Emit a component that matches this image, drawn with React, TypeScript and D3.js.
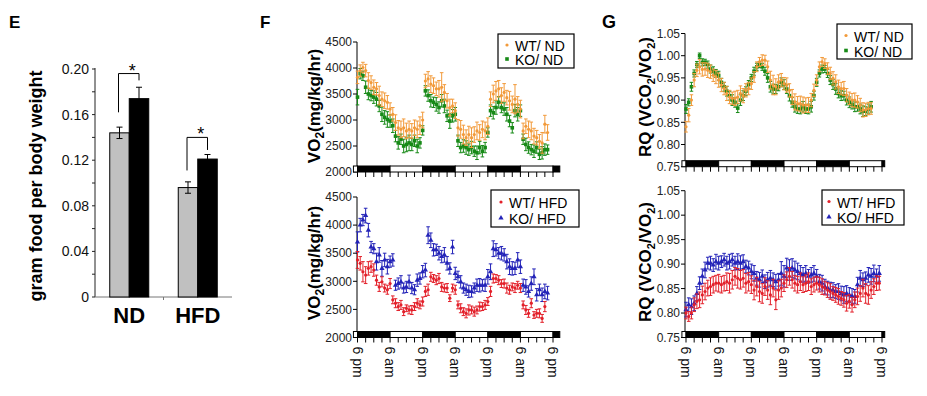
import React from 'react';
import * as d3 from 'd3';

const FONT = "'Liberation Sans', Arial, Helvetica, sans-serif";

// ---------- Panel E data ----------
const DIETS = ['ND', 'HFD'];
const GENOTYPES = ['WT', 'KO'];
const FOOD_WT = [0.144, 0.096];
const FOOD_KO = [0.174, 0.121];
const FOOD_WT_ERR = [0.005, 0.005];
const FOOD_KO_ERR = [0.010, 0.004];
const FOOD_TICKS = [0, 0.04, 0.08, 0.12, 0.16, 0.2];
const FOOD_TICK_LABELS = ['0', '0.04', '0.08', '0.12', '0.16', '0.20'];
const FOOD_MINOR = [0.02, 0.06, 0.1, 0.14, 0.18];
const SIG_TOP = [0.196, 0.14];
const SIG_LEFT_END = [0.162, 0.111];
const SIG_RIGHT_END = [0.19, 0.129];

// ---------- Time axis ----------
const HOUR_LABEL_POS = [0, 12, 24, 36, 48, 60, 72];
const HOUR_LABELS = ['6 pm', '6 am', '6 pm', '6 am', '6 pm', '6 am', '6 pm'];
const PHASE_START = [-1.5, 0, 12, 24, 36, 48, 60, 72];
const PHASE_DARK = [false, true, false, true, false, true, false, true];

// ---------- VO2 data (hourly, from 6 pm) ----------
const VO2_TICKS = [2000, 2500, 3000, 3500, 4000, 4500];

const WT_ND_VO2 = [
  3820, 3950, 4010, 3950, 3760, 3720, 3630, 3600, 3470, 3400, 3370, 3340,
  3210, 3110, 2950, 2850, 2820, 2850, 2790, 2820, 2790, 2850, 2820, 2890,
  3000, 3750, 3790, 3690, 3660, 3600, 3600, 3630, 3530, 3370, 3240, 3270,
  3180, 2850, 2820, 2720, 2660, 2720, 2660, 2720, 2790, 2760, 2820, 2790,
  2880, 3400, 3500, 3560, 3600, 3470, 3530, 3430, 3370, 3300, 3400, 3300,
  3210, 2790, 2880, 2820, 2790, 2690, 2660, 2590, 2560, 2920, 2760,
];
const WT_ND_VO2_ERR = [
  120, 110, 100, 120, 150, 130, 140, 120, 180, 140, 150, 130,
  120, 130, 150, 140, 160, 170, 150, 160, 140, 150, 160, 170,
  150, 130, 140, 160, 150, 130, 160, 280, 150, 140, 160, 130,
  150, 160, 170, 180, 150, 160, 190, 150, 170, 150, 160, 170,
  160, 140, 170, 180, 160, 150, 170, 140, 180, 160, 280, 150,
  170, 150, 140, 160, 170, 150, 140, 130, 200, 170, 150,
];
const KO_ND_VO2 = [
  3440, 3890, 3850, 3630, 3500, 3470, 3440, 3400, 3270, 3110, 3050, 3010,
  2980, 2890, 2690, 2560, 2630, 2500, 2530, 2560, 2530, 2600, 2500, 2560,
  2800, 3560, 3470, 3370, 3340, 3300, 3240, 3370, 3270, 3080, 2980, 3080,
  3110, 2600, 2470, 2500, 2470, 2430, 2470, 2400, 2370, 2470, 2400, 2470,
  2760, 3180, 3140, 3240, 3340, 3240, 3210, 3110, 2980, 2850, 3180, 3110,
  3180, 2630, 2530, 2470, 2430, 2400, 2470, 2340, 2370, 2430, 2430,
];
const KO_ND_VO2_ERR = [
  150, 100, 90, 120, 110, 100, 120, 130, 110, 140, 130, 150,
  120, 130, 110, 120, 100, 130, 140, 150, 120, 110, 130, 100,
  90, 100, 110, 120, 100, 130, 110, 120, 130, 110, 140, 120,
  130, 110, 100, 120, 130, 110, 120, 100, 130, 120, 110, 100,
  90, 110, 120, 130, 110, 100, 120, 130, 110, 100, 120, 130,
  110, 100, 120, 110, 100, 120, 110, 100, 120, 110, 90,
];
const WT_HFD_VO2 = [
  3380, 3320, 3170, 3110, 3230, 3260, 3200, 3020, 2900, 2990, 2880, 2850,
  2960, 2670, 2610, 2550, 2580, 2460, 2520, 2490, 2490, 2550, 2610, 2580,
  2640, 2820, 2850, 3080, 3050, 3020, 3050, 2900, 2880, 2880, 2700, 2880,
  2850, 2580, 2520, 2460, 2430, 2490, 2490, 2460, 2490, 2550, 2550, 2580,
  2640, 2820, 3050, 3050, 3020, 2960, 2960, 2880, 2850, 2900, 2880, 2930,
  2880, 2580, 2490, 2430, 2610, 2400, 2430, 2430, 2340, 2550,
];
const WT_HFD_VO2_ERR = [
  150, 120, 180, 150, 120, 100, 110, 90, 80, 90, 70, 80,
  90, 70, 80, 70, 80, 70, 60, 70, 80, 70, 80, 70,
  80, 90, 100, 80, 70, 80, 90, 80, 70, 80, 60, 70,
  80, 70, 80, 70, 80, 90, 70, 80, 70, 80, 70, 80,
  70, 90, 80, 70, 80, 70, 80, 90, 80, 70, 80, 70,
  80, 70, 80, 70, 80, 60, 70, 80, 70, 90,
];
const KO_HFD_VO2 = [
  3700, 4000, 4090, 4170, 3910, 3610, 3580, 3350, 3470, 3230, 3380, 3260,
  3350, 3380, 2930, 2960, 2990, 2880, 2900, 2990, 2880, 2850, 3020, 3050,
  3170, 3200, 3820, 3730, 3560, 3560, 3500, 3440, 3470, 3320, 3230, 3610,
  3140, 3080, 2990, 2880, 2850, 2820, 2820, 2880, 2930, 2930, 2930, 2930,
  3080, 3170, 3580, 3560, 3500, 3500, 3470, 3350, 3260, 3230, 3230, 3380,
  3260, 2930, 2900, 2820, 2960, 3080, 2760, 2850, 2760, 2820, 2790,
];
const KO_HFD_VO2_ERR = [
  180, 120, 100, 130, 120, 100, 90, 150, 130, 140, 120, 130,
  100, 110, 90, 100, 110, 90, 100, 120, 100, 90, 110, 100,
  110, 120, 150, 130, 110, 100, 120, 110, 130, 120, 100, 120,
  110, 100, 110, 90, 100, 110, 100, 90, 110, 120, 100, 110,
  130, 140, 140, 110, 100, 120, 110, 130, 140, 120, 110, 130,
  120, 110, 130, 100, 120, 140, 110, 100, 120, 130, 120,
];

// ---------- RQ data ----------
const RQ_TICKS = [0.75, 0.8, 0.85, 0.9, 0.95, 1.0, 1.05];
const RQ_TICK_LABELS = ['0.75', '0.80', '0.85', '0.90', '0.95', '1.00', '1.05'];

const WT_ND_RQ = [
  0.840, 0.866, 0.900, 0.945, 0.967, 0.975, 0.969, 0.970, 0.967, 0.964, 0.956, 0.952,
  0.945, 0.934, 0.926, 0.915, 0.907, 0.904, 0.904, 0.907, 0.915, 0.910, 0.922, 0.926,
  0.937, 0.952, 0.975, 0.986, 0.990, 0.990, 0.975, 0.945, 0.934, 0.930, 0.941, 0.945,
  0.937, 0.934, 0.922, 0.907, 0.896, 0.892, 0.892, 0.889, 0.889, 0.889, 0.900, 0.922,
  0.945, 0.975, 0.986, 0.982, 0.971, 0.960, 0.949, 0.941, 0.930, 0.926, 0.926, 0.911,
  0.904, 0.900, 0.900, 0.896, 0.889, 0.878, 0.878, 0.881, 0.881,
];
const WT_ND_RQ_ERR = [
  0.012, 0.015, 0.012, 0.015, 0.014, 0.016, 0.015, 0.014, 0.016, 0.015, 0.014, 0.015,
  0.016, 0.015, 0.014, 0.016, 0.015, 0.014, 0.016, 0.015, 0.017, 0.016, 0.015, 0.014,
  0.013, 0.012, 0.011, 0.010, 0.012, 0.011, 0.013, 0.020, 0.022, 0.018, 0.016, 0.015,
  0.014, 0.016, 0.015, 0.017, 0.018, 0.016, 0.017, 0.018, 0.016, 0.017, 0.015, 0.014,
  0.012, 0.011, 0.010, 0.011, 0.013, 0.014, 0.015, 0.016, 0.015, 0.014, 0.016, 0.015,
  0.014, 0.015, 0.016, 0.014, 0.015, 0.016, 0.015, 0.014, 0.013,
];
const KO_ND_RQ = [
  0.880, 0.895, 0.930, 0.960, 0.980, 1.000, 0.985, 0.985, 0.980, 0.970, 0.965, 0.960,
  0.955, 0.940, 0.930, 0.920, 0.910, 0.900, 0.895, 0.882, 0.900, 0.910, 0.920, 0.935,
  0.950, 0.965, 0.975, 0.980, 0.975, 0.965, 0.950, 0.930, 0.925, 0.925, 0.930, 0.940,
  0.935, 0.925, 0.910, 0.895, 0.885, 0.880, 0.880, 0.885, 0.880, 0.880, 0.885, 0.910,
  0.940, 0.960, 0.970, 0.970, 0.960, 0.945, 0.935, 0.925, 0.915, 0.910, 0.910, 0.900,
  0.895, 0.890, 0.885, 0.885, 0.880, 0.875, 0.875, 0.880, 0.885,
];
const KO_ND_RQ_ERR = [
  0.010, 0.008, 0.010, 0.008, 0.007, 0.006, 0.008, 0.007, 0.008, 0.009, 0.010, 0.009,
  0.010, 0.009, 0.010, 0.011, 0.010, 0.012, 0.011, 0.010, 0.012, 0.011, 0.010, 0.009,
  0.008, 0.009, 0.008, 0.007, 0.008, 0.009, 0.010, 0.012, 0.011, 0.010, 0.009, 0.010,
  0.011, 0.010, 0.012, 0.011, 0.012, 0.010, 0.011, 0.012, 0.010, 0.011, 0.012, 0.010,
  0.009, 0.008, 0.009, 0.008, 0.009, 0.010, 0.011, 0.012, 0.010, 0.011, 0.010, 0.011,
  0.012, 0.010, 0.011, 0.010, 0.011, 0.012, 0.010, 0.011, 0.012,
];
const WT_HFD_RQ = [
  0.800, 0.793, 0.800, 0.817, 0.824, 0.827, 0.837, 0.844, 0.851, 0.854, 0.858, 0.861,
  0.861, 0.858, 0.861, 0.864, 0.861, 0.868, 0.875, 0.871, 0.868, 0.871, 0.861, 0.864,
  0.858, 0.847, 0.854, 0.844, 0.840, 0.854, 0.847, 0.837, 0.851, 0.827, 0.847, 0.851,
  0.861, 0.868, 0.875, 0.868, 0.861, 0.858, 0.864, 0.858, 0.861, 0.864, 0.854, 0.858,
  0.861, 0.858, 0.854, 0.851, 0.847, 0.844, 0.840, 0.837, 0.834, 0.830, 0.827, 0.820,
  0.824, 0.817, 0.827, 0.834, 0.840, 0.851, 0.840, 0.837, 0.847, 0.854, 0.861, 0.861,
];
const WT_HFD_RQ_ERR = [
  0.012, 0.010, 0.012, 0.014, 0.015, 0.016, 0.018, 0.017, 0.016, 0.018, 0.017, 0.016,
  0.018, 0.017, 0.016, 0.018, 0.020, 0.019, 0.018, 0.020, 0.019, 0.018, 0.020, 0.019,
  0.018, 0.020, 0.019, 0.021, 0.020, 0.018, 0.019, 0.020, 0.018, 0.020, 0.019, 0.018,
  0.017, 0.016, 0.018, 0.017, 0.016, 0.017, 0.018, 0.016, 0.017, 0.018, 0.016, 0.015,
  0.014, 0.015, 0.016, 0.014, 0.015, 0.016, 0.014, 0.015, 0.016, 0.014, 0.015, 0.016,
  0.014, 0.015, 0.016, 0.017, 0.016, 0.018, 0.020, 0.019, 0.017, 0.016, 0.015, 0.014,
];
const KO_HFD_RQ = [
  0.807, 0.817, 0.813, 0.820, 0.840, 0.861, 0.875, 0.888, 0.902, 0.902, 0.898, 0.905,
  0.902, 0.905, 0.909, 0.902, 0.905, 0.909, 0.902, 0.905, 0.902, 0.905, 0.895, 0.892,
  0.885, 0.881, 0.871, 0.868, 0.875, 0.864, 0.868, 0.871, 0.868, 0.864, 0.868, 0.881,
  0.875, 0.892, 0.888, 0.892, 0.888, 0.885, 0.881, 0.878, 0.881, 0.875, 0.878, 0.881,
  0.875, 0.864, 0.861, 0.854, 0.851, 0.847, 0.847, 0.844, 0.844, 0.840, 0.837, 0.840,
  0.837, 0.834, 0.834, 0.858, 0.871, 0.868, 0.871, 0.878, 0.875, 0.881, 0.875, 0.881,
];
const KO_HFD_RQ_ERR = [
  0.015, 0.014, 0.016, 0.015, 0.014, 0.013, 0.015, 0.016, 0.012, 0.014, 0.013, 0.015,
  0.014, 0.012, 0.013, 0.014, 0.015, 0.013, 0.014, 0.016, 0.015, 0.014, 0.013, 0.014,
  0.015, 0.016, 0.014, 0.015, 0.013, 0.014, 0.015, 0.016, 0.014, 0.015, 0.013, 0.024,
  0.022, 0.020, 0.021, 0.019, 0.018, 0.017, 0.016, 0.015, 0.016, 0.014, 0.015, 0.016,
  0.014, 0.015, 0.016, 0.015, 0.014, 0.016, 0.015, 0.014, 0.016, 0.015, 0.017, 0.016,
  0.015, 0.016, 0.014, 0.015, 0.016, 0.014, 0.013, 0.015, 0.016, 0.017, 0.015, 0.016,
];

const C_ORANGE = '#f29a3a';
const C_GREEN = '#178a17';
const C_RED = '#e3202a';
const C_BLUE = '#2323b8';

type Marker = 'circle' | 'square' | 'triangle';

function MarkerShape({ x, y, marker, color }: { x: number; y: number; marker: Marker; color: string }) {
  if (marker === 'circle') return <circle cx={x} cy={y} r={1.6} fill={color} />;
  if (marker === 'square') return <rect x={x - 1.8} y={y - 1.8} width={3.6} height={3.6} fill={color} />;
  const p = d3.symbol(d3.symbolTriangle, 12)() as string;
  return <path d={p} transform={`translate(${x},${y})`} fill={color} />;
}

interface SeriesDef { label: string; values: number[]; errors: number[]; color: string; marker: Marker }

interface PanelProps {
  axisX: number; x0: number; x72: number; stripEnd: number;
  yTop: number; yBot: number; domain: [number, number];
  ticks: number[]; tickLabels: string[];
  draw: SeriesDef[]; legendOrder: SeriesDef[];
  legend: { x: number; y: number; w: number; h: number; tx: number; b: number[] };
  hourLabels: boolean;
  yLabel: React.ReactNode; yLabelX: number; yLabelY: number;
}

function TimePanel(p: PanelProps) {
  const xs = d3.scaleLinear().domain([0, 72]).range([p.x0, p.x72]);
  const ys = d3.scaleLinear().domain(p.domain).range([p.yBot, p.yTop]);
  const stripH = 6;
  const minorHours = d3.range(0, 73, 3);
  return (
    <g>
      {/* y axis */}
      <line x1={p.axisX} x2={p.axisX} y1={ys(p.domain[1])} y2={p.yBot} stroke="#000" strokeWidth={1} />
      {p.ticks.map((t, i) => (
        <g key={i}>
          <line x1={p.axisX - 4} x2={p.axisX} y1={ys(t)} y2={ys(t)} stroke="#000" />
          <text x={p.axisX - 5} y={ys(t)} dy="0.35em" textAnchor="end" fontSize={12} fill="#222">{p.tickLabels[i]}</text>
        </g>
      ))}
      {/* light/dark strip */}
      {PHASE_START.map((s, i) => {
        const e = i < PHASE_START.length - 1 ? PHASE_START[i + 1] : p.stripEnd;
        return <rect key={i} x={xs(s)} y={p.yBot - stripH} width={xs(e) - xs(s)} height={stripH}
          fill={PHASE_DARK[i] ? '#000' : '#fff'} stroke="#000" strokeWidth={1} />;
      })}
      {minorHours.map((h) => (
        <line key={h} x1={xs(h)} x2={xs(h)} y1={p.yBot} y2={p.yBot + 5} stroke="#000" />
      ))}
      {p.hourLabels && HOUR_LABEL_POS.map((h, i) => (
        <text key={i} transform={`translate(${xs(h)},${p.yBot + 9}) rotate(90)`} dy="0.35em" fontSize={14} fill="#111">{HOUR_LABELS[i]}</text>
      ))}
      {/* series */}
      {p.draw.map((s, si) => (
        <g key={si}>
          {s.values.map((v, i) => {
            const x = xs(i);
            const yv = ys(v);
            const yh = ys(v + s.errors[i]);
            const yl = ys(v - s.errors[i]);
            return (
              <g key={i}>
                <line x1={x} x2={x} y1={yl} y2={yh} stroke={s.color} strokeWidth={1} />
                <line x1={x - 1.8} x2={x + 1.8} y1={yh} y2={yh} stroke={s.color} strokeWidth={1} />
                <line x1={x - 1.8} x2={x + 1.8} y1={yl} y2={yl} stroke={s.color} strokeWidth={1} />
                <MarkerShape x={x} y={yv} marker={s.marker} color={s.color} />
              </g>
            );
          })}
        </g>
      ))}
      {/* legend */}
      <rect x={p.legend.x} y={p.legend.y} width={p.legend.w} height={p.legend.h} fill="#fff" stroke="#000" strokeWidth={1.2} />
      {p.legendOrder.map((s, i) => (
        <g key={i}>
          <MarkerShape x={p.legend.tx - 8} y={p.legend.b[i] - 6} marker={s.marker} color={s.color} />
          <text x={p.legend.tx} y={p.legend.b[i]} fontSize={14} fill="#000">{s.label}</text>
        </g>
      ))}
      {/* y label */}
      <text transform={`translate(${p.yLabelX},${p.yLabelY}) rotate(-90)`} textAnchor="middle" fontSize={17} fontWeight="bold" fill="#000">{p.yLabel}</text>
    </g>
  );
}

function FoodPanel() {
  const ax = 95, ay0 = 297, ay1 = 69, axEnd = 232;
  const y = d3.scaleLinear().domain([0, 0.2]).range([ay0, ay1]);
  const xg = d3.scaleBand().domain(DIETS).range([ax, axEnd]);
  const barW = 19.5;
  const xb = d3.scaleBand().domain(GENOTYPES).range([0, barW * 2]);
  const groups = DIETS.map((d, i) => ({ d, vals: [FOOD_WT[i], FOOD_KO[i]], errs: [FOOD_WT_ERR[i], FOOD_KO_ERR[i]] }));
  return (
    <g>
      <line x1={ax} x2={ax} y1={ay1 - 1} y2={ay0} stroke="#222" />
      <line x1={ax} x2={axEnd} y1={ay0} y2={ay0} stroke="#777" />
      <line x1={(ax + axEnd) / 2} x2={(ax + axEnd) / 2} y1={ay0} y2={ay0 + 3} stroke="#777" />
      {FOOD_TICKS.map((t, i) => (
        <g key={i}>
          <line x1={ax - 3} x2={ax} y1={y(t)} y2={y(t)} stroke="#222" />
          <text x={89} y={y(t)} dy="0.35em" textAnchor="end" fontSize={14} fill="#111">{FOOD_TICK_LABELS[i]}</text>
        </g>
      ))}
      {FOOD_MINOR.map((t, i) => (
        <line key={i} x1={ax - 3} x2={ax} y1={y(t)} y2={y(t)} stroke="#222" />
      ))}
      {groups.map((g, gi) => {
        const cx = (xg(g.d) as number) + xg.bandwidth() / 2;
        const left = cx - barW;
        return (
          <g key={gi}>
            {g.vals.map((v, k) => {
              const bx = left + (xb(GENOTYPES[k]) as number);
              const mid = bx + barW / 2;
              return (
                <g key={k}>
                  <rect x={bx} y={y(v)} width={barW} height={ay0 - y(v)} fill={k === 0 ? '#c0c0c0' : '#000'} stroke="#000" strokeWidth={1} />
                  <line x1={mid} x2={mid} y1={y(v - g.errs[k])} y2={y(v + g.errs[k])} stroke="#000" />
                  <line x1={mid - 3} x2={mid + 3} y1={y(v + g.errs[k])} y2={y(v + g.errs[k])} stroke="#000" />
                  <line x1={mid - 3} x2={mid + 3} y1={y(v - g.errs[k])} y2={y(v - g.errs[k])} stroke="#000" />
                </g>
              );
            })}
            {/* significance bracket */}
            <path d={`M${left + barW / 2 - 1},${y(SIG_LEFT_END[gi])}V${y(SIG_TOP[gi])}H${left + barW * 1.5}V${y(SIG_RIGHT_END[gi])}`} fill="none" stroke="#000" strokeWidth={1} />
            <text x={cx + 3} y={y(SIG_TOP[gi]) + 3} textAnchor="middle" fontSize={18} fill="#000">*</text>
            <text x={cx} y={323} textAnchor="middle" fontSize={22} fontWeight="bold" fill="#000">{g.d}</text>
          </g>
        );
      })}
      <text transform={`translate(42,${186}) rotate(-90)`} textAnchor="middle" fontSize={18} fontWeight="bold" fill="#000">gram food per body weight</text>
    </g>
  );
}

const sWTND_VO2: SeriesDef = { label: 'WT/ ND', values: WT_ND_VO2, errors: WT_ND_VO2_ERR, color: C_ORANGE, marker: 'circle' };
const sKOND_VO2: SeriesDef = { label: 'KO/ ND', values: KO_ND_VO2, errors: KO_ND_VO2_ERR, color: C_GREEN, marker: 'square' };
const sWTHFD_VO2: SeriesDef = { label: 'WT/ HFD', values: WT_HFD_VO2, errors: WT_HFD_VO2_ERR, color: C_RED, marker: 'circle' };
const sKOHFD_VO2: SeriesDef = { label: 'KO/ HFD', values: KO_HFD_VO2, errors: KO_HFD_VO2_ERR, color: C_BLUE, marker: 'triangle' };
const sWTND_RQ: SeriesDef = { label: 'WT/ ND', values: WT_ND_RQ, errors: WT_ND_RQ_ERR, color: C_ORANGE, marker: 'circle' };
const sKOND_RQ: SeriesDef = { label: 'KO/ ND', values: KO_ND_RQ, errors: KO_ND_RQ_ERR, color: C_GREEN, marker: 'square' };
const sWTHFD_RQ: SeriesDef = { label: 'WT/ HFD', values: WT_HFD_RQ, errors: WT_HFD_RQ_ERR, color: C_RED, marker: 'circle' };
const sKOHFD_RQ: SeriesDef = { label: 'KO/ HFD', values: KO_HFD_RQ, errors: KO_HFD_RQ_ERR, color: C_BLUE, marker: 'triangle' };

const VO2_LABEL = (
  <>
    <tspan>VO</tspan>
    <tspan fontSize={12} dy={4}>2</tspan>
    <tspan dy={-4}>(mg/kg/hr)</tspan>
  </>
);
const RQ_LABEL = (
  <>
    <tspan>RQ (VCO</tspan>
    <tspan fontSize={11} dy={4}>2</tspan>
    <tspan dy={-4}>/VO</tspan>
    <tspan fontSize={11} dy={4}>2</tspan>
    <tspan dy={-4}>)</tspan>
  </>
);

const VO2_TICK_LABELS = VO2_TICKS.map(String);

export default function App() {
  return (
    <svg width={927} height={396} style={{ position: 'absolute', left: 0, top: 0, background: '#fff' }} fontFamily={FONT}>
      <rect width={927} height={396} fill="#fff" />
      <FoodPanel />
      <TimePanel axisX={357} x0={357.5} x72={553} stripEnd={74.5} yTop={42} yBot={172} domain={[2000, 4500]}
        ticks={VO2_TICKS} tickLabels={VO2_TICK_LABELS} draw={[sKOND_VO2, sWTND_VO2]} legendOrder={[sWTND_VO2, sKOND_VO2]}
        legend={{ x: 498, y: 34, w: 76, h: 34, tx: 515, b: [51, 65] }} hourLabels={false}
        yLabel={VO2_LABEL} yLabelX={320} yLabelY={106} />
      <TimePanel axisX={357} x0={357.5} x72={553} stripEnd={74.5} yTop={197} yBot={337.5} domain={[2000, 4500]}
        ticks={VO2_TICKS} tickLabels={VO2_TICK_LABELS} draw={[sKOHFD_VO2, sWTHFD_VO2]} legendOrder={[sWTHFD_VO2, sKOHFD_VO2]}
        legend={{ x: 491, y: 190, w: 88, h: 37, tx: 509, b: [208, 224] }} hourLabels={true}
        yLabel={VO2_LABEL} yLabelX={320} yLabelY={263} />
      <TimePanel axisX={685} x0={686} x72={882} stripEnd={73} yTop={33.5} yBot={166.7} domain={[0.75, 1.05]}
        ticks={RQ_TICKS} tickLabels={RQ_TICK_LABELS} draw={[sKOND_RQ, sWTND_RQ]} legendOrder={[sWTND_RQ, sKOND_RQ]}
        legend={{ x: 837, y: 24, w: 75, h: 35, tx: 854, b: [41.5, 56.5] }} hourLabels={false}
        yLabel={RQ_LABEL} yLabelX={651} yLabelY={97} />
      <TimePanel axisX={685} x0={686} x72={882} stripEnd={73} yTop={190.7} yBot={337.5} domain={[0.75, 1.05]}
        ticks={RQ_TICKS} tickLabels={RQ_TICK_LABELS} draw={[sKOHFD_RQ, sWTHFD_RQ]} legendOrder={[sWTHFD_RQ, sKOHFD_RQ]}
        legend={{ x: 822, y: 190, w: 82, h: 35, tx: 837, b: [207.5, 223] }} hourLabels={true}
        yLabel={RQ_LABEL} yLabelX={651} yLabelY={262} />
      <text x={9} y={28} fontSize={17} fontWeight="bold">E</text>
      <text x={260} y={28} fontSize={17} fontWeight="bold">F</text>
      <text x={602} y={28} fontSize={18} fontWeight="bold">G</text>
    </svg>
  );
}
